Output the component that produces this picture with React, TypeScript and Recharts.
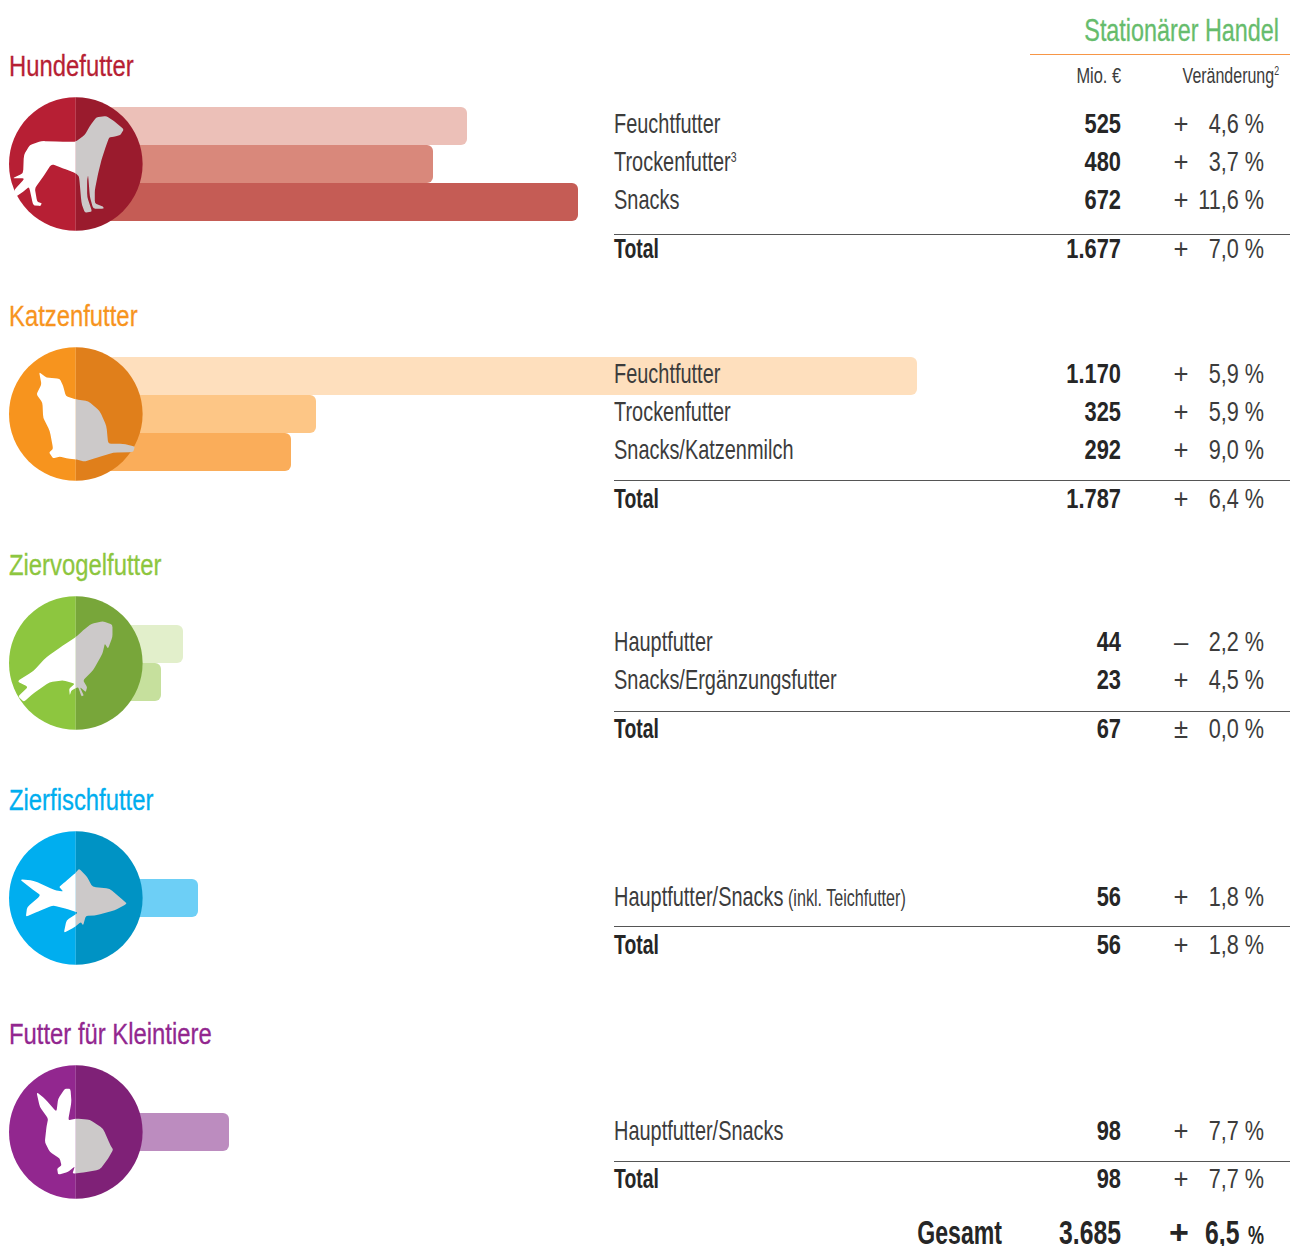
import React from "react";
import { BarChart, Bar, Cell, XAxis, YAxis } from "recharts";

// ---- data ----
const dogLabels = ["Feuchtfutter", "Trockenfutter", "Snacks"];
const dogValues = ["525", "480", "672"];
const dogSigns = ["+", "+", "+"];
const dogChanges = ["4,6 %", "3,7 %", "11,6 %"];
const dogBarLengths = [391, 357, 502];
const dogTotal = ["1.677", "+", "7,0 %"];

const catLabels = ["Feuchtfutter", "Trockenfutter", "Snacks/Katzenmilch"];
const catValues = ["1.170", "325", "292"];
const catSigns = ["+", "+", "+"];
const catChanges = ["5,9 %", "5,9 %", "9,0 %"];
const catBarLengths = [841, 240, 215];
const catTotal = ["1.787", "+", "6,4 %"];

const birdLabels = ["Hauptfutter", "Snacks/Ergänzungsfutter"];
const birdValues = ["44", "23"];
const birdSigns = ["–", "+"];
const birdChanges = ["2,2 %", "4,5 %"];
const birdBarLengths = [107, 85];
const birdTotal = ["67", "±", "0,0 %"];

const fishLabels = ["Hauptfutter/Snacks"];
const fishValues = ["56"];
const fishSigns = ["+"];
const fishChanges = ["1,8 %"];
const fishBarLengths = [122];
const fishTotal = ["56", "+", "1,8 %"];

const smallLabels = ["Hauptfutter/Snacks"];
const smallValues = ["98"];
const smallSigns = ["+"];
const smallChanges = ["7,7 %"];
const smallBarLengths = [153];
const smallTotal = ["98", "+", "7,7 %"];

// ---- silhouettes (decoration, in 3x local units) ----
const dogShape = [[372,268],[362,285],[345,290],[328,292],[318,320],[305,360],[295,400],[285,450],[285,490],[310,500],[312,506],[280,506],[270,470],[265,405],[262,420],[262,470],[277,515],[255,518],[245,490],[238,410],[228,400],[190,385],[155,372],[130,410],[105,445],[112,485],[126,490],[122,498],[100,496],[88,440],[70,455],[48,470],[43,450],[75,415],[38,415],[70,400],[72,345],[90,315],[125,303],[180,305],[228,305],[255,285],[272,255],[290,232],[320,228],[345,245]];
const catShape = [[118,88],[140,105],[180,108],[190,130],[198,160],[228,170],[265,175],[300,205],[320,250],[325,303],[370,303],[405,312],[400,328],[340,330],[290,345],[255,357],[228,350],[205,348],[180,342],[160,347],[148,330],[160,318],[150,265],[130,225],[128,180],[110,155],[125,125]];
const birdShape = [[228,140],[250,120],[275,100],[310,93],[338,103],[338,140],[325,175],[315,160],[308,190],[280,240],[250,270],[262,290],[258,305],[240,290],[252,315],[245,318],[235,290],[215,300],[210,315],[208,295],[225,280],[190,270],[150,275],[100,310],[72,335],[55,318],[85,290],[52,273],[100,243],[140,200],[190,165]];
const fishShape = [[238,130],[262,155],[278,185],[330,190],[365,220],[382,235],[345,255],[290,270],[258,272],[250,300],[243,290],[225,305],[192,323],[200,285],[235,262],[205,252],[160,240],[115,258],[78,275],[82,245],[123,210],[95,190],[60,162],[100,165],[165,195],[190,198],[178,185],[195,170],[228,142]];
const rabbitShape = [[110,95],[135,115],[170,155],[175,115],[195,85],[212,85],[215,125],[205,180],[228,175],[270,178],[310,205],[332,255],[340,268],[325,295],[300,328],[250,337],[218,340],[225,318],[205,335],[175,343],[172,325],[185,315],[180,295],[150,275],[135,245],[140,200],[145,175],[120,140]];

const FONT = "'Liberation Sans', sans-serif";
const SIZE = 28.5;
const K_LABEL = 0.7;
const K_NUM = 0.76;
const K_BOLD_NUM = 0.767;
const K_TOTAL = 0.68;
const INK = "#3c3c3c";
const INK_BOLD = "#262626";

const groups = [
  { id: "dog", title: "Hundefutter", color: "#B71F34", dark: "#9A1B2D", labels: dogLabels, values: dogValues, signs: dogSigns, changes: dogChanges, lengths: dogBarLengths, total: dogTotal, fills: ["#ECC0B8", "#D9887B", "#C55C55"], shape: dogShape, shapeCy: 372, titleY: 76, barTop: 107.3, circleY: 164, rowYs: [133.4, 171.4, 209.4], ruleY: 234.5, totalY: 258.4 },
  { id: "cat", title: "Katzenfutter", color: "#F7941E", dark: "#E07F1B", labels: catLabels, values: catValues, signs: catSigns, changes: catChanges, lengths: catBarLengths, total: catTotal, fills: ["#FEDFBD", "#FDC686", "#FAAD5A"], shape: catShape, shapeCy: 214, titleY: 326, barTop: 357, circleY: 414, rowYs: [383.4, 421.4, 459.4], ruleY: 480.5, totalY: 508.4 },
  { id: "bird", title: "Ziervogelfutter", color: "#8DC63F", dark: "#78A63A", labels: birdLabels, values: birdValues, signs: birdSigns, changes: birdChanges, lengths: birdBarLengths, total: birdTotal, fills: ["#E2EFCB", "#C6E09D"], shape: birdShape, shapeCy: 218, titleY: 575, barTop: 625.3, circleY: 663, rowYs: [651.4, 689.4], ruleY: 711.5, totalY: 738.4 },
  { id: "fish", title: "Zierfischfutter", color: "#00AEEF", dark: "#0093C4", labels: fishLabels, values: fishValues, signs: fishSigns, changes: fishChanges, lengths: fishBarLengths, total: fishTotal, fills: ["#6DCFF6"], shape: fishShape, shapeCy: 218, titleY: 810, barTop: 878.7, circleY: 898, rowYs: [905.9], ruleY: 926.5, totalY: 954.4 },
  { id: "small", title: "Futter für Kleintiere", color: "#92278F", dark: "#7F2177", labels: smallLabels, values: smallValues, signs: smallSigns, changes: smallChanges, lengths: smallBarLengths, total: smallTotal, fills: ["#BC8CBF"], shape: rabbitShape, shapeCy: 215, titleY: 1044, barTop: 1113, circleY: 1132, rowYs: [1139.9], ruleY: 1161.5, totalY: 1188.4 },
];

const CX = 75.8;
const R = 66.8;
const ROW = 38;

function roundedPath(shape: number[][], cy: number) {
  const pts = shape.map((p) => [(p[0] - 228) / 3, (p[1] - cy) / 3]);
  const n = pts.length;
  const t = 0.2;
  let d = "";
  pts.forEach((p, i) => {
    const a = pts[(i + n - 1) % n];
    const b = pts[(i + 1) % n];
    const s = [p[0] + (a[0] - p[0]) * t, p[1] + (a[1] - p[1]) * t];
    const e = [p[0] + (b[0] - p[0]) * t, p[1] + (b[1] - p[1]) * t];
    d += `${i === 0 ? "M" : "L"}${s[0].toFixed(2)} ${s[1].toFixed(2)}Q${p[0].toFixed(2)} ${p[1].toFixed(2)} ${e[0].toFixed(2)} ${e[1].toFixed(2)}`;
  });
  return d + "Z";
}

type TP = { x: number; y: number; size?: number; k?: number; anchor?: "start" | "end" | "middle"; color?: string; weight?: any; stroke?: number; children: any };
function T({ x, y, size = SIZE, k = K_LABEL, anchor = "start", color = INK, weight = 400, stroke = 0, children }: TP) {
  return (
    <text
      transform={`translate(${x},${y}) scale(${k},1)`}
      textAnchor={anchor}
      fontFamily={FONT}
      fontSize={size}
      fontWeight={weight}
      fill={color}
      stroke={stroke ? color : "none"}
      strokeWidth={stroke}
    >
      {children}
    </text>
  );
}

function Row({ y, value, sign, change, label }: any) {
  return (
    <g>
      {label}
      <T x={1121} y={y} anchor="end" weight={700} k={K_BOLD_NUM} color={INK_BOLD}>{value}</T>
      <T x={1181} y={y} anchor="middle" k={0.9}>{sign}</T>
      <T x={1264} y={y} anchor="end" k={K_NUM}>{change}</T>
    </g>
  );
}

export default function App() {
  return (
    <div style={{ position: "absolute", left: 0, top: 0, width: 1290, height: 1246, background: "#fff", overflow: "hidden" }}>
      {groups.map((g) => (
        <div key={g.id} style={{ position: "absolute", left: 76, top: g.barTop }}>
          <BarChart
            width={1000}
            height={g.lengths.length * ROW}
            layout="vertical"
            data={g.labels.map((name, i) => ({ name, length: g.lengths[i] }))}
            margin={{ top: 0, right: 0, bottom: 0, left: 0 }}
            barCategoryGap={0}
          >
            <XAxis type="number" hide domain={[0, 1000]} />
            <YAxis type="category" dataKey="name" hide />
            <Bar dataKey="length" radius={6} isAnimationActive={false}>
              {g.fills.map((f, i) => (
                <Cell key={i} fill={f} />
              ))}
            </Bar>
          </BarChart>
        </div>
      ))}
      <svg width={1290} height={1246} style={{ position: "absolute", left: 0, top: 0 }}>
        <defs>
          <clipPath id="leftHalf"><rect x={-80} y={-80} width={80} height={160} /></clipPath>
          <clipPath id="rightHalf"><rect x={0} y={-80} width={80} height={160} /></clipPath>
        </defs>

        <T x={1279} y={40.5} size={32} anchor="end" k={0.73} color="#66BC6C" stroke={0.3}>Stationärer Handel</T>
        <line x1={1030} x2={1290} y1={54.5} y2={54.5} stroke="#F79646" strokeWidth={1} />
        <T x={1121} y={82.5} size={22} anchor="end" k={0.745}>Mio. €</T>
        <T x={1279} y={82.5} size={22} anchor="end" k={0.727}>
          Veränderung<tspan fontSize={12} dy={-8}>2</tspan>
        </T>

        {groups.map((g) => {
          const d = roundedPath(g.shape, g.shapeCy);
          return (
            <g key={g.id}>
              <T x={9} y={g.titleY} size={30} k={0.795} color={g.color} stroke={0.3}>{g.title}</T>
              <g transform={`translate(${CX},${g.circleY})`}>
                <circle r={R} fill={g.color} clipPath="url(#leftHalf)" />
                <circle r={R} fill={g.dark} clipPath="url(#rightHalf)" />
                <path d={d} fill="#FFFFFF" clipPath="url(#leftHalf)" />
                <path d={d} fill="#CCC9C9" clipPath="url(#rightHalf)" />
              </g>
              {g.labels.map((l: string, i: number) => (
                <Row
                  key={i}
                  y={g.rowYs[i]}
                  value={g.values[i]}
                  sign={g.signs[i]}
                  change={g.changes[i]}
                  label={
                    <T x={614} y={g.rowYs[i]}>
                      {l}
                      {g.id === "dog" && i === 1 ? <tspan fontSize={15} dy={-9}>3</tspan> : null}
                      {g.id === "fish" ? <tspan fontSize={23}> (inkl. Teichfutter)</tspan> : null}
                    </T>
                  }
                />
              ))}
              <line x1={614} x2={1290} y1={g.ruleY} y2={g.ruleY} stroke="#555" strokeWidth={1} />
              <Row
                y={g.totalY}
                value={g.total[0]}
                sign={g.total[1]}
                change={g.total[2]}
                label={<T x={614} y={g.totalY} weight={700} k={K_TOTAL} color={INK_BOLD}>Total</T>}
              />
            </g>
          );
        })}

        <T x={1002} y={1244} size={33} anchor="end" weight={700} k={0.7} color={INK_BOLD}>Gesamt</T>
        <T x={1121} y={1244} size={33} anchor="end" weight={700} k={0.75} color={INK_BOLD}>3.685</T>
        <T x={1179} y={1244} size={34} anchor="middle" weight={700} k={1} color={INK_BOLD}>+</T>
        <T x={1205} y={1244} size={33} weight={700} k={0.75} color={INK_BOLD}>6,5</T>
        <T x={1264} y={1244} size={25} anchor="end" weight={700} k={0.72} color={INK_BOLD}>%</T>
      </svg>
    </div>
  );
}
